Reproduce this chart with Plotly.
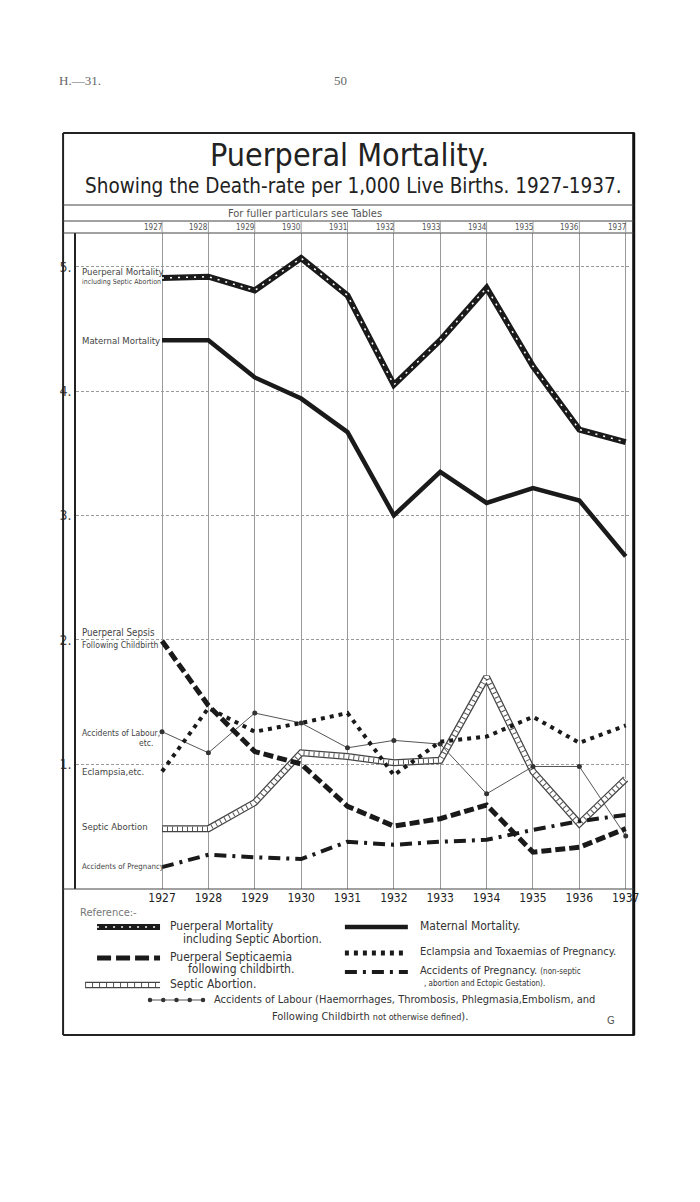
import plotly.graph_objects as go

# ---------------- data ----------------
years = [1927, 1928, 1929, 1930, 1931, 1932, 1933, 1934, 1935, 1936, 1937]
year_labels = [str(y) for y in years]
puerperal_mortality = [4.91, 4.92, 4.81, 5.07, 4.77, 4.05, 4.41, 4.83, 4.20, 3.69, 3.59]
maternal_mortality = [4.41, 4.41, 4.11, 3.94, 3.67, 3.00, 3.35, 3.10, 3.22, 3.12, 2.67]
puerperal_sepsis = [1.99, 1.47, 1.10, 1.00, 0.66, 0.50, 0.56, 0.67, 0.29, 0.33, 0.48]
eclampsia = [0.94, 1.45, 1.26, 1.33, 1.41, 0.91, 1.18, 1.22, 1.38, 1.17, 1.31]
accidents_labour = [1.26, 1.09, 1.41, 1.33, 1.13, 1.19, 1.16, 0.76, 0.98, 0.98, 0.42]
septic_abortion = [0.48, 0.48, 0.69, 1.09, 1.06, 1.01, 1.03, 1.70, 0.94, 0.52, 0.88]
accidents_pregnancy = [0.17, 0.27, 0.25, 0.235, 0.375, 0.35, 0.375, 0.39, 0.47, 0.54, 0.59]
y_ticks = [1, 2, 3, 4, 5]
y_tick_labels = ["1.", "2.", "3.", "4.", "5."]

W, H = 700, 1202
O = 8                          # default page body margin
FW, FH = W - 2 * O, H - 2 * O  # figure size so the page never scrolls
K = 0.986                      # observed horizontal scale of the photographed page
PL, PR, PT, PB = 76, 630, 233, 889  # plot area in picture pixels

INK = "#1a1a1a"
GRID = "#9a9a9a"
FONT = "Open Sans, Lato, sans-serif"
TITLE_FONT = "Liberation Sans Narrow, DejaVu Sans Condensed, Roboto Condensed, Open Sans, sans-serif"

fig = go.Figure()


def series(y, key):
    """add one styled series on the main axes"""
    x = years
    if key == "pm":
        fig.add_trace(go.Scatter(x=x, y=y, mode="lines", line=dict(color=INK, width=6), xaxis="x", yaxis="y"))
        fig.add_trace(go.Scatter(x=x, y=y, mode="lines", line=dict(color="white", width=1.5, dash="2px,6px"), xaxis="x", yaxis="y"))
    elif key == "mm":
        fig.add_trace(go.Scatter(x=x, y=y, mode="lines", line=dict(color=INK, width=4.5), xaxis="x", yaxis="y"))
    elif key == "sep":
        fig.add_trace(go.Scatter(x=x, y=y, mode="lines", line=dict(color=INK, width=5, dash="10px,4px"), xaxis="x", yaxis="y"))
    elif key == "ecl":
        fig.add_trace(go.Scatter(x=x, y=y, mode="lines", line=dict(color=INK, width=4, dash="4px,5px"), xaxis="x", yaxis="y"))
    elif key == "lab":
        fig.add_trace(go.Scatter(x=x, y=y, mode="lines+markers", line=dict(color="#555", width=1),
                                 marker=dict(symbol="circle", size=5, color="#333"), xaxis="x", yaxis="y"))
    elif key == "sa":
        fig.add_trace(go.Scatter(x=x, y=y, mode="lines", line=dict(color="#444", width=7), xaxis="x", yaxis="y"))
        fig.add_trace(go.Scatter(x=x, y=y, mode="lines", line=dict(color="white", width=4.5), xaxis="x", yaxis="y"))
        fig.add_trace(go.Scatter(x=x, y=y, mode="lines", line=dict(color="#555", width=4.5, dash="1px,4px"), xaxis="x", yaxis="y"))
    elif key == "ap":
        fig.add_trace(go.Scatter(x=x, y=y, mode="lines", line=dict(color=INK, width=4, dash="12px,6px,3px,6px"), xaxis="x", yaxis="y"))


series(septic_abortion, "sa")
series(accidents_labour, "lab")
series(eclampsia, "ecl")
series(accidents_pregnancy, "ap")
series(puerperal_sepsis, "sep")
series(maternal_mortality, "mm")
series(puerperal_mortality, "pm")

# ---------------- legend samples (pixel overlay axes) ----------------
def sample(x0, x1, yy, key):
    xs = [x0, x1]
    ys = [yy, yy]
    kw = dict(xaxis="x2", yaxis="y2", mode="lines")
    if key == "pm":
        fig.add_trace(go.Scatter(x=xs, y=ys, line=dict(color=INK, width=6), **kw))
        fig.add_trace(go.Scatter(x=xs, y=ys, line=dict(color="white", width=1.5, dash="2px,6px"), **kw))
    elif key == "mm":
        fig.add_trace(go.Scatter(x=xs, y=ys, line=dict(color=INK, width=4.5), **kw))
    elif key == "sep":
        fig.add_trace(go.Scatter(x=xs, y=ys, line=dict(color=INK, width=5, dash="14px,5px"), **kw))
    elif key == "ecl":
        fig.add_trace(go.Scatter(x=xs, y=ys, line=dict(color=INK, width=5, dash="4px,5px"), **kw))
    elif key == "ap":
        fig.add_trace(go.Scatter(x=xs, y=ys, line=dict(color=INK, width=4, dash="12px,6px,3px,6px"), **kw))
    elif key == "sa":
        fig.add_trace(go.Scatter(x=xs, y=ys, line=dict(color="#444", width=6.5), **kw))
        fig.add_trace(go.Scatter(x=xs, y=ys, line=dict(color="white", width=4), **kw))
        fig.add_trace(go.Scatter(x=xs, y=ys, line=dict(color="#555", width=4, dash="1px,6px"), **kw))
    elif key == "lab":
        n = 5
        lx = [x0 + (x1 - x0) * i / (n - 1) for i in range(n)]
        fig.add_trace(go.Scatter(x=lx, y=[yy] * n, xaxis="x2", yaxis="y2", mode="lines+markers",
                                 line=dict(color="#555", width=1), marker=dict(size=4.5, color="#333")))


sample(97, 160, 927, "pm")
sample(345, 408, 927, "mm")
sample(345, 408, 953, "ecl")
sample(97, 160, 958, "sep")
sample(345, 408, 972, "ap")
sample(85, 160, 985, "sa")
sample(150, 203, 1000, "lab")

# ---------------- annotations ----------------
anns = []


def txt(x, y, text, size=11, anchor="left", color="#333", family=FONT):
    anns.append(dict(x=x, y=y, xref="x2", yref="y2", text=text, showarrow=False,
                     xanchor=anchor, yanchor="middle", font=dict(size=size, color=color, family=family)))


# page header
txt(80, 80, "H.—31.", 13, "center", "#666", "Liberation Serif, DejaVu Serif, serif")
txt(341, 80, "50", 13, "center", "#666", "Liberation Serif, DejaVu Serif, serif")

# titles
txt(350, 155, "Puerperal Mortality.", 32, "center", "#222", TITLE_FONT)
txt(354, 186, "Showing the Death-rate per 1,000 Live Births. 1927-1937.", 20.5, "center", "#222", TITLE_FONT)
txt(305, 213, "For fuller particulars see Tables", 11, "center", "#555", TITLE_FONT)

# labels inside plot (left zone)
LC = "#444"
txt(80, 271, "Puerperal Mortality", 9.5, color=LC, family=TITLE_FONT)
txt(80, 282, "including Septic Abortion", 7, color=LC, family=TITLE_FONT)
txt(80, 340, "Maternal Mortality", 9.5, color=LC, family=TITLE_FONT)
txt(80, 632, "Puerperal Sepsis", 9.7, color=LC, family=TITLE_FONT)
txt(80, 645, "Following Childbirth", 8.6, color=LC, family=TITLE_FONT)
txt(80, 733, "Accidents of Labour,", 8.5, color=LC, family=TITLE_FONT)
txt(155, 743, "etc.", 8.5, "right", LC, TITLE_FONT)
txt(80, 771, "Eclampsia,etc.", 9.5, color=LC, family=TITLE_FONT)
txt(80, 826, "Septic Abortion", 9.5, color=LC, family=TITLE_FONT)
txt(80, 866, "Accidents of Pregnancy", 7.8, color=LC, family=TITLE_FONT)

# legend text
txt(78, 912, "Reference:-", 11, color="#777", family=TITLE_FONT)
txt(168, 926, "Puerperal Mortality", 12, family=TITLE_FONT)
txt(181, 939, "including Septic Abortion.", 12, family=TITLE_FONT)
txt(418, 926, "Maternal Mortality.", 12, family=TITLE_FONT)
txt(418, 951, "Eclampsia and Toxaemias of Pregnancy.", 11, family=TITLE_FONT)
txt(168, 957, "Puerperal Septicaemia", 12, family=TITLE_FONT)
txt(186, 969, "following childbirth.", 12, family=TITLE_FONT)
txt(418, 970, "Accidents of Pregnancy. <span style='font-size:8px'>(non-septic</span>", 11, family=TITLE_FONT)
txt(422, 983, ", abortion and Ectopic Gestation).", 8, family=TITLE_FONT)
txt(168, 984, "Septic Abortion.", 12, family=TITLE_FONT)
txt(212, 999, "Accidents of Labour (Haemorrhages, Thrombosis, Phlegmasia,Embolism, and", 11, family=TITLE_FONT)
txt(270, 1016, "Following Childbirth <span style='font-size:9px'>not otherwise defined</span>).", 11, family=TITLE_FONT)
txt(611, 1020, "G", 11, "center", "#555", TITLE_FONT)

# top year labels (main x axis coords)
for yr, lab in zip(years, year_labels):
    anns.append(dict(x=yr, y=227, xref="x", yref="y2", text=lab, showarrow=False,
                     xanchor="right", yanchor="middle", xshift=2,
                     font=dict(size=8, color="#555", family=TITLE_FONT)))

# ---------------- frame shapes ----------------
shapes = []
shapes.append(dict(type="line", xref="x2", yref="y2", x0=63, x1=63, y0=133, y1=1035,
                   line=dict(color="#222", width=2)))
shapes.append(dict(type="line", xref="x2", yref="y2", x0=63, x1=635, y0=133, y1=133,
                   line=dict(color="#222", width=2)))
shapes.append(dict(type="line", xref="x2", yref="y2", x0=63, x1=635, y0=1035, y1=1035,
                   line=dict(color="#222", width=2)))
shapes.append(dict(type="line", xref="x2", yref="y2", x0=634, x1=634, y0=133, y1=1035,
                   line=dict(color="#111", width=3)))
for yy in (205, 221, PT):
    shapes.append(dict(type="line", xref="x2", yref="y2", x0=63, x1=634, y0=yy, y1=yy,
                       line=dict(color="#444", width=1.2)))
shapes.append(dict(type="line", xref="x2", yref="y2", x0=63, x1=634, y0=PB, y1=PB,
                   line=dict(color="#444", width=1.2)))
for yr in years:
    shapes.append(dict(type="line", xref="x", yref="y2", x0=yr, x1=yr, y0=221, y1=PT,
                       line=dict(color=GRID, width=1)))

# ---------------- layout ----------------
x_span = (PR - PL) / 46.4
x_lo = 1927 - (162 - PL) / 46.4
y_span = (PB - PT) / 124.3
y_lo = (888.3 - PB) / 124.3
BOT = H - O  # page y of the figure's bottom edge


def pg(X):
    """picture x -> page x"""
    return X / K


fig.update_layout(
    width=FW, height=FH,
    margin=dict(l=0, r=0, t=0, b=0),
    paper_bgcolor="white",
    plot_bgcolor="rgba(0,0,0,0)",
    showlegend=False,
    annotations=anns,
    shapes=shapes,
    xaxis=dict(domain=[(pg(PL) - O) / FW, (pg(PR) - O) / FW], range=[x_lo, x_lo + x_span], anchor="y",
               tickvals=years, ticktext=year_labels, showgrid=True, gridcolor=GRID, gridwidth=1,
               showline=False, zeroline=False, ticks="", tickfont=dict(size=12, color="#222", family=TITLE_FONT)),
    yaxis=dict(domain=[(BOT - PB) / FH, (BOT - PT) / FH], range=[y_lo, y_lo + y_span], anchor="x",
               tickvals=y_ticks, ticktext=y_tick_labels, showgrid=True, gridcolor=GRID, gridwidth=1,
               griddash="3px,2px", zeroline=False, showline=True, linecolor="#222", linewidth=1.5,
               ticks="", ticklabelstandoff=0, tickfont=dict(size=14, color="#444", family=TITLE_FONT)),
    xaxis2=dict(domain=[0, 1], range=[O * K, (W - O) * K], anchor="y2", visible=False),
    yaxis2=dict(domain=[0, 1], range=[BOT, O], anchor="x2", visible=False),
)

fig.write_html("out.html")
